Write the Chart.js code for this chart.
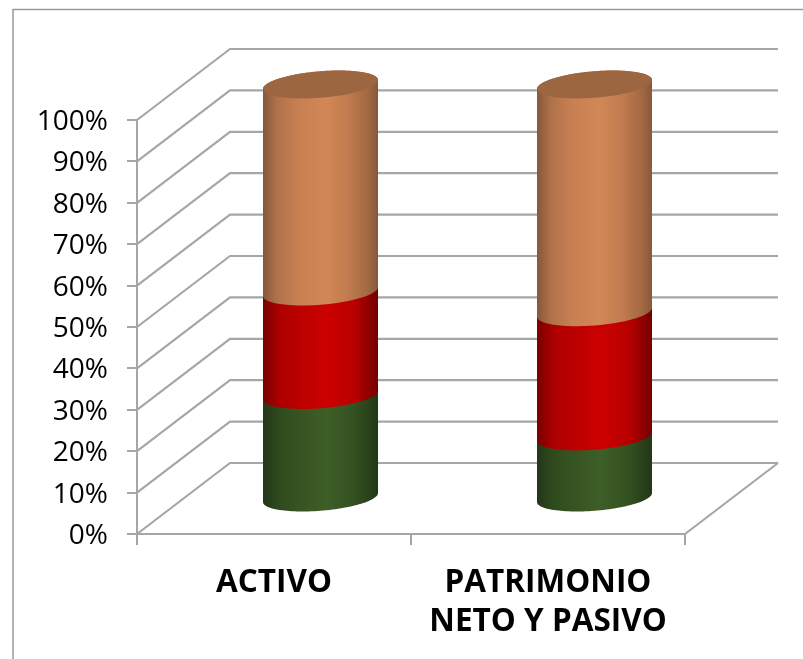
<!DOCTYPE html>
<html lang="es">
<head>
    <meta charset="UTF-8">
    <title>Activo / Patrimonio neto y pasivo</title>
    <script src="https://cdnjs.cloudflare.com/ajax/libs/Chart.js/4.4.1/chart.umd.min.js"></script>
    <style>
        html, body { margin: 0; padding: 0; background: #fff; }
        canvas { display: block; filter: blur(0.5px); }
    </style>
</head>
<body>
    <canvas id="chart" width="803" height="659"></canvas>

    <script>
        const categories = ['ACTIVO', ['PATRIMONIO', 'NETO Y PASIVO']];
        const greenValues = [25, 15];
        const redValues = [25, 30];
        const orangeValues = [50, 55];

        // offset of the back wall from the front of the 3D box
        const depthX = 93;
        const depthY = 71;
        const capHalfHeight = 14;
        const wallColor = '#a6a6a6';

        const shades = [
            [[0, '#23361a'], [0.15, '#304c1e'], [0.55, '#3e5e27'], [0.8, '#345021'], [1, '#223716']],
            [[0, '#7a0000'], [0.15, '#ae0000'], [0.55, '#cc0000'], [0.8, '#b80000'], [1, '#750000']],
            [[0, '#85583a'], [0.12, '#b0714a'], [0.3, '#c87f52'], [0.55, '#d28756'], [0.75, '#c07a4e'], [0.92, '#a06842'], [1, '#85583a']]
        ];
        const capColor = '#9c6640';

        function ellipseFor(halfWidth) {
            const b = capHalfHeight / depthY;
            const skew = b * depthX;
            const a = Math.sqrt(halfWidth * halfWidth - skew * skew);
            return {
                start: Math.atan2(skew, a),
                point: (cx, cy, t) => [cx + a * Math.cos(t) + skew * Math.sin(t), cy - capHalfHeight * Math.sin(t)]
            };
        }

        const frameAndWalls = {
            id: 'frameAndWalls',
            beforeDraw(chart) {
                const ctx = chart.ctx;
                ctx.save();
                ctx.strokeStyle = '#9a9a9a';
                ctx.lineWidth = 1.5;
                ctx.beginPath();
                ctx.moveTo(13, 659);
                ctx.lineTo(13, 9.5);
                ctx.lineTo(803, 9.5);
                ctx.stroke();
                ctx.restore();
            },
            beforeDatasetsDraw(chart) {
                const ctx = chart.ctx;
                const y = chart.scales.y;
                const left = chart.chartArea.left;
                const right = chart.chartArea.right;
                ctx.save();
                ctx.strokeStyle = wallColor;
                ctx.lineWidth = 2.2;
                ctx.beginPath();
                y.ticks.forEach(tick => {
                    const py = y.getPixelForValue(tick.value);
                    ctx.moveTo(left, py);
                    ctx.lineTo(left + depthX, py - depthY);
                    ctx.lineTo(right + depthX, py - depthY);
                });
                // right edge of the floor
                const floor = y.getPixelForValue(0);
                ctx.moveTo(right + depthX, floor - depthY);
                ctx.lineTo(right, floor);
                ctx.stroke();
                ctx.restore();
            }
        };

        const cylinders = {
            id: 'cylinders',
            afterDatasetsDraw(chart) {
                const ctx = chart.ctx;
                ctx.save();
                categories.forEach((_, index) => {
                    let topBar = null;
                    chart.data.datasets.forEach((dataset, di) => {
                        const bar = chart.getDatasetMeta(di).data[index];
                        const halfWidth = bar.width / 2;
                        const cx = bar.x + depthX / 2;
                        const top = bar.y - depthY / 2;
                        const bottom = bar.base - depthY / 2;
                        const ell = ellipseFor(halfWidth);

                        const grad = ctx.createLinearGradient(cx - halfWidth, 0, cx + halfWidth, 0);
                        shades[di].forEach(s => grad.addColorStop(s[0], s[1]));

                        ctx.fillStyle = grad;
                        ctx.beginPath();
                        for (let i = 0; i <= 60; i++) {
                            const t = ell.start + Math.PI + Math.PI * i / 60;
                            const p = ell.point(cx, bottom, t);
                            ctx.lineTo(p[0], p[1]);
                        }
                        for (let i = 0; i <= 60; i++) {
                            const t = ell.start + Math.PI * i / 60;
                            const p = ell.point(cx, top, t);
                            ctx.lineTo(p[0], p[1]);
                        }
                        ctx.closePath();
                        ctx.fill();
                        topBar = { cx, top, ell };
                    });

                    // lid of the cylinder
                    ctx.fillStyle = capColor;
                    ctx.beginPath();
                    for (let i = 0; i <= 120; i++) {
                        const p = topBar.ell.point(topBar.cx, topBar.top, Math.PI * 2 * i / 120);
                        ctx.lineTo(p[0], p[1]);
                    }
                    ctx.closePath();
                    ctx.fill();
                });
                ctx.restore();
            }
        };

        new Chart(document.getElementById('chart'), {
            type: 'bar',
            data: {
                labels: categories,
                datasets: [
                    { label: 'Verde', data: greenValues, backgroundColor: 'transparent' },
                    { label: 'Rojo', data: redValues, backgroundColor: 'transparent' },
                    { label: 'Naranja', data: orangeValues, backgroundColor: 'transparent' }
                ]
            },
            options: {
                responsive: false,
                animation: false,
                layout: { padding: { top: 120, right: 118, left: 0, bottom: 0 } },
                datasets: { bar: { barPercentage: 115 / 274, categoryPercentage: 1 } },
                plugins: { legend: { display: false }, tooltip: { enabled: false } },
                scales: {
                    x: {
                        stacked: true,
                        afterFit: scale => { scale.height = 125; },
                        grid: { offset: true, drawOnChartArea: false, color: wallColor, lineWidth: 2, tickLength: 11 },
                        border: { color: wallColor, width: 2 },
                        ticks: {
                            color: '#000',
                            maxRotation: 0,
                            autoSkip: false,
                            padding: 18,
                            font: { family: 'Open Sans', size: 31.5, weight: 'bold', lineHeight: 1.25 }
                        }
                    },
                    y: {
                        stacked: true,
                        min: 0,
                        max: 100,
                        afterFit: scale => { scale.width = 137; },
                        grid: { drawOnChartArea: false, color: wallColor, lineWidth: 2, tickLength: 10 },
                        border: { color: wallColor, width: 2 },
                        ticks: {
                            color: '#000',
                            stepSize: 10,
                            padding: 19,
                            labelOffset: 2,
                            callback: value => value + '%',
                            font: { family: 'Open Sans', size: 28 }
                        }
                    }
                }
            },
            plugins: [frameAndWalls, cylinders]
        });
    </script>
</body>
</html>
